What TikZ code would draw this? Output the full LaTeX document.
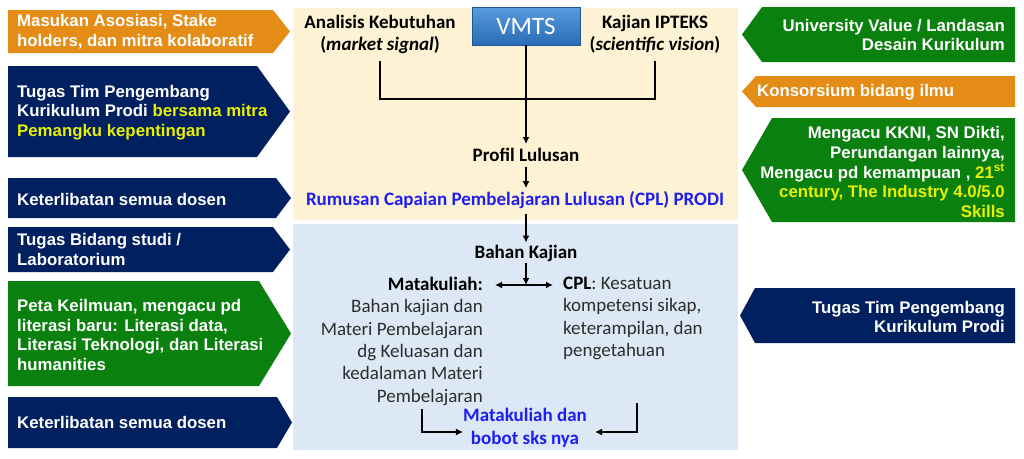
\documentclass[tikz,border=0pt]{standalone}
\usepackage{fontspec}
\setmainfont{Liberation Sans}
\newfontfamily\calib{Carlito}
\usetikzlibrary{arrows.meta,calc}
\definecolor{orng}{RGB}{228,140,22}
\definecolor{navy}{RGB}{0,32,96}
\definecolor{grn}{RGB}{10,128,14}
\definecolor{yel}{RGB}{232,240,0}
\definecolor{cream}{RGB}{254,242,212}
\definecolor{lblue}{RGB}{220,232,245}
\definecolor{cblue}{RGB}{30,30,240}
\definecolor{dgray}{RGB}{45,45,45}
\definecolor{vtop}{RGB}{88,155,222}
\definecolor{vbot}{RGB}{42,108,182}
\begin{document}
\begin{tikzpicture}[x=1pt,y=-1pt,
  lbl/.style={font=\bfseries\fontsize{16.8}{19.8}\selectfont, text=white, inner sep=0},
  ctext/.style={font=\calib\fontsize{19}{22.3}\selectfont, inner sep=0, text=dgray},
  ctitle/.style={font=\calib\bfseries\fontsize{19}{22.5}\selectfont, inner sep=0, text=black},
  conn/.style={line width=1.6pt},
  arr/.style={line width=1.6pt, -{Latex[length=7pt,width=7pt]}},
  darr/.style={line width=1.6pt, {Latex[length=7pt,width=7pt]}-{Latex[length=7pt,width=7pt]}}]
\useasboundingbox (0,0) rectangle (1024,458);
\fill[white] (0,0) rectangle (1024,458);
% panels
\fill[cream] (293,8) rectangle (738,220);
\fill[lblue] (293,224) rectangle (738,450);
% left pointers
\fill[orng] (8,10) -- (273,10) -- (290,31.5) -- (273,53) -- (8,53) -- cycle;
\fill[navy] (8,66) -- (257,66) -- (290,111.5) -- (257,157) -- (8,157) -- cycle;
\fill[navy] (8,178) -- (276,178) -- (291,198) -- (276,218) -- (8,218) -- cycle;
\fill[navy] (8,227) -- (273,227) -- (290,249.5) -- (273,272) -- (8,272) -- cycle;
\fill[grn] (8,281) -- (259,281) -- (291,333.5) -- (259,386) -- (8,386) -- cycle;
\fill[navy] (8,397) -- (277,397) -- (292,422.5) -- (277,448) -- (8,448) -- cycle;
\node[lbl, anchor=west, align=left] (l1) at (17,32) {Masukan Asosiasi, Stake\\holders, dan mitra kolaboratif};
\node[lbl, anchor=west, align=left] (l2) at (17,112.5) {Tugas Tim Pengembang\\Kurikulum Prodi \textcolor{yel}{bersama mitra}\\\textcolor{yel}{Pemangku kepentingan}};
\node[lbl, anchor=west, align=left] (l3) at (17,199) {Keterlibatan semua dosen};
\node[lbl, anchor=west, align=left] (l4) at (17,249.5) {Tugas Bidang studi /\\Laboratorium};
\node[lbl, anchor=west, align=left] (l5) at (17,335) {Peta Keilmuan, mengacu pd\\literasi baru: Literasi data,\\Literasi Teknologi, dan Literasi\\humanities};
\node[lbl, anchor=west, align=left] (l6) at (17,422.5) {Keterlibatan semua dosen};
% right pointers
\fill[grn] (1015,7) -- (762,7) -- (742,34.5) -- (762,62) -- (1015,62) -- cycle;
\fill[orng] (1015,76) -- (756,76) -- (742,91.5) -- (756,107) -- (1015,107) -- cycle;
\fill[grn] (1015,118) -- (772,118) -- (742,170) -- (772,222) -- (1015,222) -- cycle;
\fill[navy] (1015,288) -- (755,288) -- (740,315.5) -- (755,343) -- (1015,343) -- cycle;
\node[lbl, anchor=east, align=right] (r1) at (1005,35) {University Value / Landasan\\Desain Kurikulum};
\node[lbl, anchor=west, align=left] (r2) at (757,92) {Konsorsium bidang ilmu};
\node[lbl, anchor=east, align=right] (r3) at (1005,172) {Mengacu KKNI, SN Dikti,\\Perundangan lainnya,\\Mengacu pd kemampuan , \textcolor{yel}{21\textsuperscript{st}}\\\textcolor{yel}{century, The Industry 4.0/5.0}\\\textcolor{yel}{Skills}};
\node[lbl, anchor=east, align=right] (r4) at (1005,317) {Tugas Tim Pengembang\\Kurikulum Prodi};
% center top
\node[minimum width=108pt, minimum height=38pt, top color=vtop, bottom color=vbot, draw=vbot!80!black, line width=0.4pt,
      text=white, font=\calib\fontsize{25}{28}\selectfont] (vmts) at (526,26) {VMTS};
\node[ctitle, align=center] (ana) at (380,34.5) {Analisis Kebutuhan\\(\textit{market signal})};
\node[ctitle, align=center] (kaj) at (655,34.5) {Kajian IPTEKS\\(\textit{scientific vision})};
\coordinate (j) at (526,99);
\node[ctitle] (prof) at (526,155) {Profil Lulusan};
\node[ctitle, text=cblue] (cpl) at (515,200) {Rumusan Capaian Pembelajaran Lulusan (CPL) PRODI};
\draw[conn] ([yshift=-7]ana.south) |- (j) -| ([yshift=-7]kaj.south);
\draw[arr] (vmts.south) -- ([yshift=4]prof.north);
\draw[arr] ([yshift=-5]prof.south) -- ([yshift=3]cpl.north -| prof.south);
% center bottom
\node[ctitle] (bahan) at (526,253) {Bahan Kajian};
\draw[arr] ([yshift=-5]cpl.south -| bahan.north) -- ([yshift=2]bahan.north);
\coordinate (bm) at (526,285);
\coordinate (bl) at (495,285);
\coordinate (br) at (553,285);
\draw[arr] ([yshift=-2]bahan.south) -- (bm);
\draw[darr] (bl) -- (br);
\node[ctext, anchor=north east, align=right] (mk) at (483,277) {\textcolor{black}{\bfseries Matakuliah:}\\Bahan kajian dan\\Materi Pembelajaran\\dg Keluasan dan\\kedalaman Materi\\Pembelajaran};
\node[ctext, anchor=north west, align=left] (cplb) at (563,277) {\textcolor{black}{\bfseries CPL}: Kesatuan\\kompetensi sikap,\\keterampilan, dan\\pengetahuan};
\node[ctitle, text=cblue, align=center] (mkb) at (525,428) {Matakuliah dan\\bobot sks nya};
\coordinate (la) at (422,409);
\coordinate (ra) at (637,403);
\draw[arr] (la) |- ([yshift=-4]mkb.west);
\draw[arr] (ra) |- ([yshift=-4,xshift=8]mkb.east);
\end{tikzpicture}
\end{document}
